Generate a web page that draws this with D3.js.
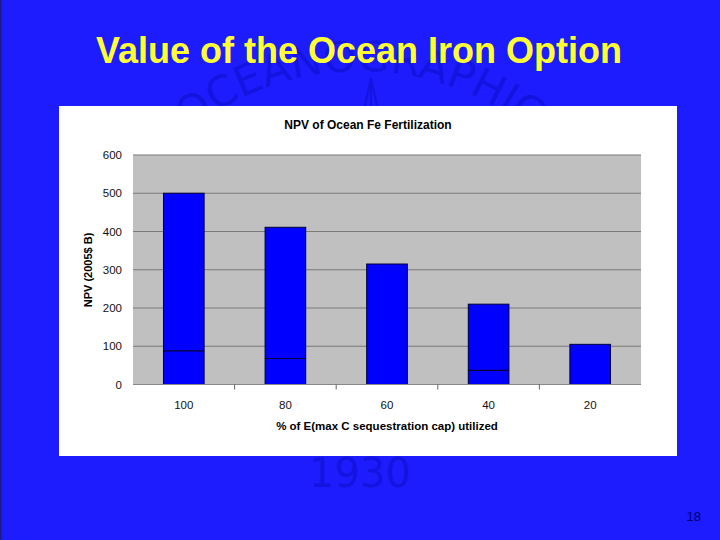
<!DOCTYPE html>
<html><head><meta charset="utf-8">
<script src="https://cdn.jsdelivr.net/npm/d3@7"></script>
<style>html,body{margin:0;padding:0;background:#1c1cff;}svg{display:block;}</style>
</head><body>
<script>
const categories = ["100", "80", "60", "40", "20"];
const lowerValues = [88, 68, 0, 37, 0];
const totalValues = [500, 411, 315, 210, 105];
const yTicks = [0, 100, 200, 300, 400, 500, 600];

const W = 720, H = 540;
const svg = d3.select("body").append("svg").attr("width", W).attr("height", H);
svg.append("rect").attr("width", W).attr("height", H).attr("fill", "#1c1cff");
svg.append("rect").attr("x", 0).attr("y", 0).attr("width", 1.5).attr("height", H).attr("fill", "#1a1a80");

// watermark
const wm = "#1414e0";
const defs = svg.append("defs");
defs.append("path").attr("id", "arc").attr("d", "M 86 345 A 274 274 0 0 1 634 345");
svg.append("text").attr("font-family", "DejaVu Sans, sans-serif").attr("font-size", 42)
  .attr("fill", wm)
  .append("textPath").attr("href", "#arc").attr("startOffset", "28.5%").text("OCEANOGRAPHIC");
svg.append("path").attr("d", "M 371 78 L 364 110 M 371 78 L 378 110 M 371 78 L 371 112")
  .attr("stroke", wm).attr("stroke-width", 2).attr("fill", "none");
svg.append("text").attr("x", 360).attr("y", 487).attr("text-anchor", "middle")
  .attr("font-family", "DejaVu Sans, sans-serif").attr("font-size", 40).attr("fill", wm).text("1930");

// slide title
svg.append("text").attr("x", 359).attr("y", 63).attr("text-anchor", "middle")
  .attr("font-family", "Liberation Sans, Arial, sans-serif").attr("font-weight", "bold")
  .attr("font-size", 36).attr("fill", "#ffff33").text("Value of the Ocean Iron Option");

// page number
svg.append("text").attr("x", 701).attr("y", 521).attr("text-anchor", "end")
  .attr("font-family", "Liberation Sans, Arial, sans-serif").attr("font-size", 13)
  .attr("fill", "#000070").text("18");

// chart panel
svg.append("rect").attr("x", 59).attr("y", 106).attr("width", 618).attr("height", 350).attr("fill", "#ffffff");

const plot = {left: 133, right: 641, top: 155, bottom: 384.5};
const x = d3.scaleBand().domain(categories).range([plot.left, plot.right]).paddingInner(0.6).paddingOuter(0.3);
const xb = d3.scaleBand().domain(categories).range([plot.left, plot.right]);
const y = d3.scaleLinear().domain([0, 600]).range([plot.bottom, plot.top]);

svg.append("rect").attr("x", plot.left).attr("y", plot.top)
  .attr("width", plot.right - plot.left).attr("height", plot.bottom - plot.top).attr("fill", "#c0c0c0");

// gridlines
svg.append("g").selectAll("line").data(yTicks.filter(d => d > 0)).join("line")
  .attr("x1", plot.left).attr("x2", plot.right)
  .attr("y1", d => y(d)).attr("y2", d => y(d))
  .attr("stroke", "#7a7a7a").attr("stroke-width", 1);

// y axis labels
const yAxis = d3.axisLeft(y).tickValues(yTicks).tickSize(0).tickPadding(11);
const gy = svg.append("g").attr("transform", `translate(${plot.left},0)`).call(yAxis);
gy.select(".domain").remove();
gy.selectAll("text").attr("font-family", "Liberation Sans, Arial, sans-serif").attr("font-size", 11.5).attr("fill", "#111");

// bars
const bars = svg.append("g");
categories.forEach((c, i) => {
  const lo = lowerValues[i], tot = totalValues[i];
  bars.append("rect").attr("x", x(c)).attr("width", x.bandwidth())
    .attr("y", y(tot)).attr("height", y(0) - y(tot))
    .attr("fill", "#0000ff").attr("stroke", "#000033").attr("stroke-width", 1);
  if (lo > 0) {
    bars.append("line").attr("x1", x(c)).attr("x2", x(c) + x.bandwidth())
      .attr("y1", y(lo)).attr("y2", y(lo)).attr("stroke", "#000033").attr("stroke-width", 1.2);
  }
});

// x axis
const gx = svg.append("g").attr("transform", `translate(0,${plot.bottom})`);
gx.append("line").attr("x1", plot.left).attr("x2", plot.right).attr("y1", 0).attr("y2", 0).attr("stroke", "#888").attr("stroke-width", 1);
gx.selectAll("line.t").data(categories.slice(1)).join("line").attr("class", "t")
  .attr("x1", d => xb(d)).attr("x2", d => xb(d)).attr("y1", 0).attr("y2", 5).attr("stroke", "#666");
gx.selectAll("text").data(categories).join("text")
  .attr("x", d => x(d) + x.bandwidth() / 2).attr("y", 24).attr("text-anchor", "middle")
  .attr("font-family", "Liberation Sans, Arial, sans-serif").attr("font-size", 11.5).attr("fill", "#111").text(d => d);

// titles
svg.append("text").attr("x", 368).attr("y", 129).attr("text-anchor", "middle")
  .attr("font-family", "Liberation Sans, Arial, sans-serif").attr("font-weight", "bold").attr("font-size", 12)
  .attr("fill", "#000").text("NPV of Ocean Fe Fertilization");
svg.append("text").attr("x", 387).attr("y", 430).attr("text-anchor", "middle")
  .attr("font-family", "Liberation Sans, Arial, sans-serif").attr("font-weight", "bold").attr("font-size", 11.5)
  .attr("fill", "#000").text("% of E(max C sequestration cap) utilized");
svg.append("text").attr("transform", "translate(92,270) rotate(-90)").attr("text-anchor", "middle")
  .attr("font-family", "Liberation Sans, Arial, sans-serif").attr("font-weight", "bold").attr("font-size", 11)
  .attr("fill", "#000").text("NPV (2005$ B)");
</script>
</body></html>
